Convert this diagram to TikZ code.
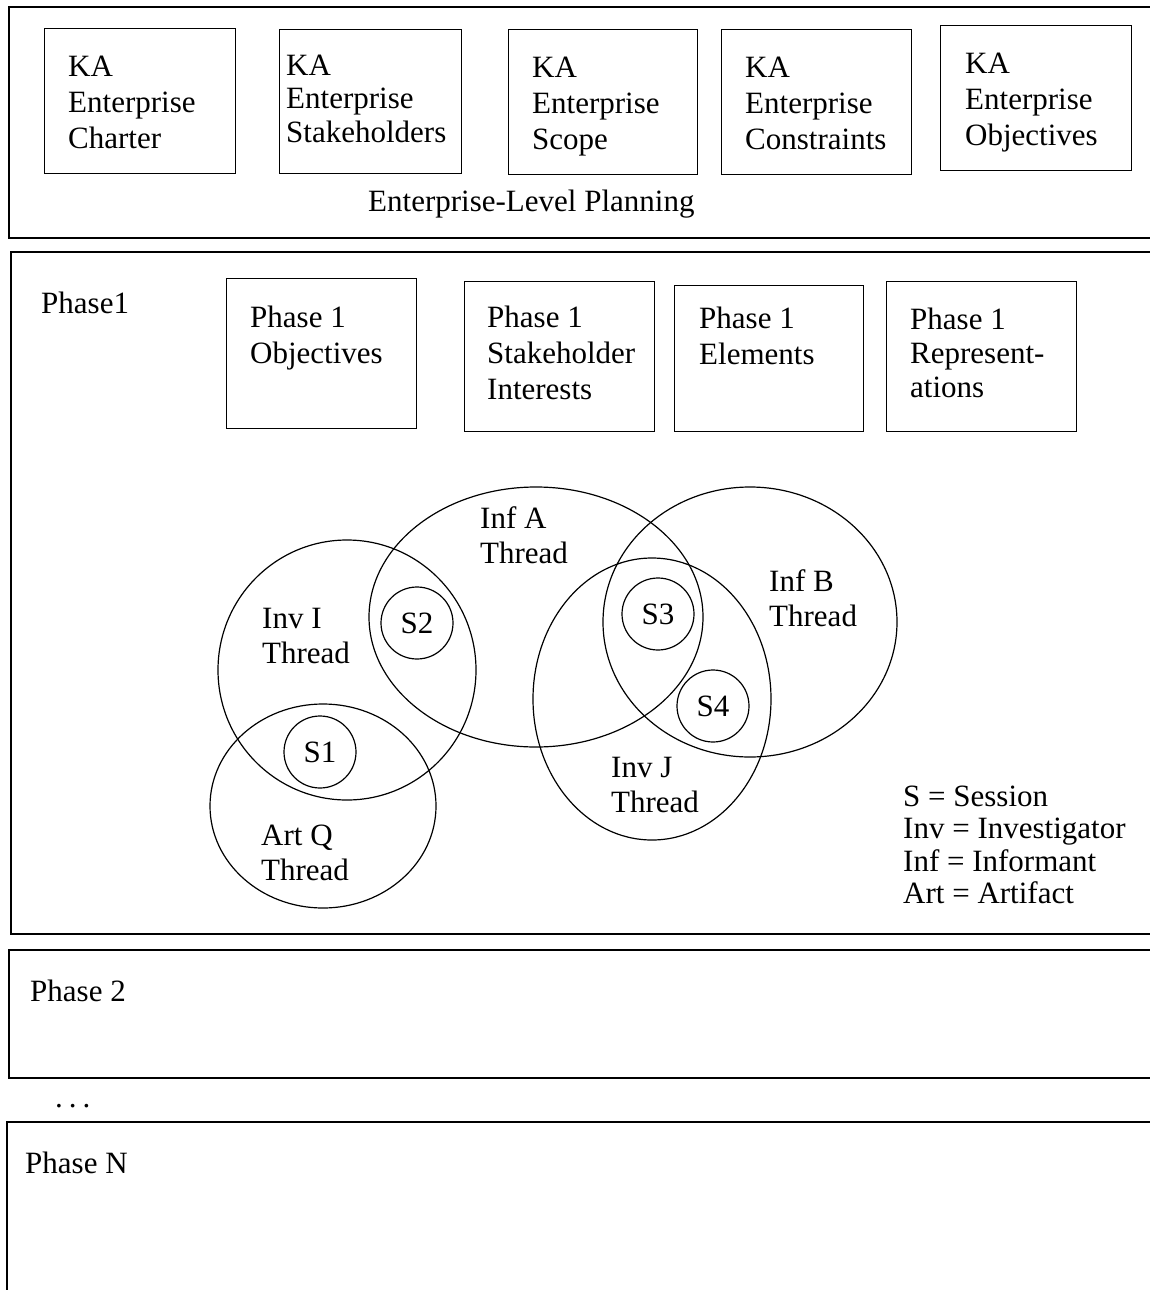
\documentclass[tikz,border=0pt]{standalone}
\usepackage{fontspec}
\setmainfont{Liberation Serif}
\usetikzlibrary{shapes.geometric}
\begin{document}
\begin{tikzpicture}[x=1pt,y=-1pt,
  every node/.style={font=\fontsize{31}{36}\selectfont},
  panel/.style={line width=1.4pt},
  kabox/.style={draw, line width=1.3pt, rectangle, inner sep=0pt, anchor=north west},
  lbl/.style={anchor=north west, inner sep=0pt, align=left},
  one/.style={anchor=base west, inner sep=0pt},
  thread/.style={draw, ellipse, line width=1.2pt, inner sep=0pt},
  sess/.style={draw, circle, line width=1.2pt, minimum size=72pt, inner sep=0pt}
]
\fill[white] (0,0) rectangle (1149,1290);
\useasboundingbox (0,0) rectangle (1149,1290);

% ---- panels (open on the right) ----
\draw[panel] (1160,7) -- (9,7) -- (9,238) -- (1160,238);
\draw[panel] (1160,252) -- (11,252) -- (11,934) -- (1160,934);
\draw[panel] (1160,950) -- (9,950) -- (9,1078) -- (1160,1078);
\draw[panel] (1160,1122) -- (7,1122) -- (7,1300);

% ---- enterprise-level boxes ----
\node[kabox, minimum width=191pt, minimum height=145pt] (b1) at (44,28) {};
\node[kabox, minimum width=182pt, minimum height=144pt] (b2) at (279,29) {};
\node[kabox, minimum width=189pt, minimum height=145pt] (b3) at (508,29) {};
\node[kabox, minimum width=190pt, minimum height=145pt] (b4) at (721,29) {};
\node[kabox, minimum width=191pt, minimum height=145pt] (b5) at (940,25) {};

\node[lbl] (t1) at (68,50.8) {\strut KA\\Enterprise\\Charter};
\node[lbl, font=\fontsize{31}{33.5}\selectfont] (t2) at (286,51.5) {\strut KA\\Enterprise\\Stakeholders};
\node[lbl] (t3) at (532,51.8) {\strut KA\\Enterprise\\Scope};
\node[lbl] (t4) at (745,51.8) {\strut KA\\Enterprise\\Constraints};
\node[lbl] (t5) at (965,47.8) {\strut KA\\Enterprise\\Objectives};
\node[one] (elp) at (368,211) {Enterprise-Level Planning};

% ---- phase 1 ----
\node[one] (ph1) at (41,313) {Phase1};
\node[kabox, minimum width=190pt, minimum height=150pt] (p1) at (226,278) {};
\node[kabox, minimum width=190pt, minimum height=150pt] (p2) at (464,281) {};
\node[kabox, minimum width=189pt, minimum height=146pt] (p3) at (674,285) {};
\node[kabox, minimum width=190pt, minimum height=150pt] (p4) at (886,281) {};
\node[lbl] (pt1) at (250,301.8) {\strut Phase 1\\Objectives};
\node[lbl] (pt2) at (487,301.8) {\strut Phase 1\\Stakeholder\\Interests};
\node[lbl] (pt3) at (699,302.8) {\strut Phase 1\\Elements};
\node[lbl, font=\fontsize{31}{34}\selectfont] (pt4) at (910,305.2) {\strut Phase 1\\Represent-\\ations};

% ---- threads ----
\node[thread, minimum width=258pt, minimum height=260pt] (invI) at (347,670) {};
\node[thread, minimum width=334pt, minimum height=260pt] (infA) at (536,617) {};
\node[thread, minimum width=226pt, minimum height=204pt] (artQ) at (323,806) {};
\node[thread, minimum width=238pt, minimum height=282pt] (invJ) at (652,699) {};
\node[thread, minimum width=294pt, minimum height=270pt] (infB) at (750,622) {};

\node[sess] (s1) at (320,752) {S1};
\node[sess] (s2) at (417,623) {S2};
\node[sess] (s3) at (658,614) {S3};
\node[sess] (s4) at (713,706) {S4};

\node[lbl, font=\fontsize{31}{35}\selectfont] (lA) at (480,503.5) {\strut Inf A\\Thread};
\node[lbl, font=\fontsize{31}{35}\selectfont] (lI) at (262,603.5) {\strut Inv I\\Thread};
\node[lbl, font=\fontsize{31}{35}\selectfont] (lQ) at (261,820.5) {\strut Art Q\\Thread};
\node[lbl, font=\fontsize{31}{35}\selectfont] (lB) at (769,566.5) {\strut Inf B\\Thread};
\node[lbl, font=\fontsize{31}{35}\selectfont] (lJ) at (611,752.5) {\strut Inv J\\Thread};

% ---- legend ----
\node[lbl, font=\fontsize{31}{32.5}\selectfont] (legend) at (903,783.2)
  {\strut S = Session\\Inv = Investigator\\Inf = Informant\\Art = Artifact};

% ---- other phases ----
\node[one] (ph2) at (30,1001) {Phase 2};
\node[one] (dots) at (55,1107) {.\kern6pt.\kern6pt.};
\node[one] (phN) at (25,1173) {Phase N};
\end{tikzpicture}
\end{document}
